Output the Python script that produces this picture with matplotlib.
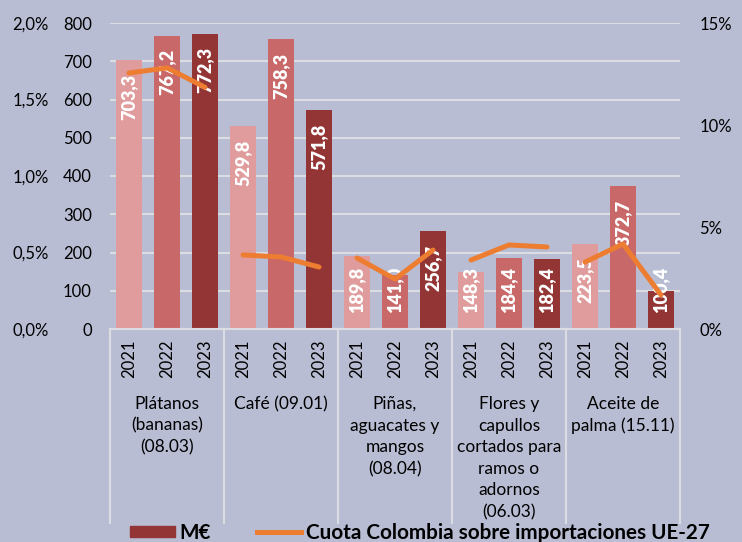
import matplotlib.pyplot as plt
from matplotlib.lines import Line2D
from matplotlib.patches import Patch
import matplotlib.transforms as mtransforms

plt.rcParams['font.family'] = ['Lato', 'DejaVu Sans']

# data
groups = ['Plátanos\n(bananas)\n(08.03)', 'Café (09.01)', 'Piñas,\naguacates y\nmangos\n(08.04)',
          'Flores y\ncapullos\ncortados para\nramos o\nadornos\n(06.03)', 'Aceite de\npalma (15.11)']
years = ['2021', '2022', '2023']
meur = [[703.3, 767.2, 772.3],
        [529.8, 758.3, 571.8],
        [189.8, 141.0, 256.7],
        [148.3, 184.4, 182.4],
        [223.5, 372.7, 100.4]]
labels = [['703,3', '767,2', '772,3'],
          ['529,8', '758,3', '571,8'],
          ['189,8', '141,0', '256,7'],
          ['148,3', '184,4', '182,4'],
          ['223,5', '372,7', '100,4']]
cuota = [[12.55, 12.8, 11.85],
         [3.63, 3.53, 3.04],
         [3.48, 2.45, 3.87],
         [3.38, 4.12, 4.02],
         [3.28, 4.17, 1.67]]

bg = '#b8bdd3'
bar_cols = ['#e09c9c', '#c96868', '#943535']
orange = '#ed7d31'
grid_c = '#dcdde3'

fig = plt.figure(figsize=(7.42, 5.42), dpi=100, facecolor=bg)
ax = fig.add_axes([110/742, 1-329/542, 570/742, 306/542], facecolor=bg)

for g in range(len(groups)):
    for j in range(3):
        x = g*3 + j
        v = meur[g][j]
        ax.bar(x, v, width=0.68, color=bar_cols[j], zorder=2)
        ax.text(x, max(v - 36, 162), labels[g][j], rotation=90, ha='center', va='top',
                color='white', fontsize=13, fontweight='heavy', zorder=4)

ax.set_xlim(-0.5, 14.5)
ax.set_ylim(0, 800)
ax.set_yticks(range(0, 801, 100))
ax.yaxis.grid(True, color=grid_c, lw=1.5, zorder=0)
ax.set_axisbelow(True)
for s in ax.spines.values():
    s.set_visible(False)
ax.tick_params(axis='y', length=0, pad=13, labelsize=12)
ax.set_xticks([])

# category axis
tr = mtransforms.blended_transform_factory(ax.transData, ax.transAxes)
ax.plot([-0.5, 14.5], [0, 0], color=grid_c, lw=1.5, transform=tr, clip_on=False, zorder=3)
for b in [-0.5, 2.5, 5.5, 8.5, 11.5, 14.5]:
    ax.plot([b, b], [0, -194/306], color=grid_c, lw=1.5, transform=tr, clip_on=False)
for g in range(len(groups)):
    for j in range(3):
        ax.text(g*3 + j, -11/306, years[j], rotation=90, ha='center', va='top',
                fontsize=12, transform=tr)
    ax.text(g*3 + 1, -67/306, groups[g], ha='center', va='top', fontsize=12.5,
            linespacing=1.43, transform=tr)

# right axis: share
ax2 = ax.twinx()
ax2.set_ylim(0, 15)
ax2.set_yticks([0, 5, 10, 15])
ax2.set_yticklabels(['0%', '5%', '10%', '15%'])
ax2.tick_params(axis='y', length=0, pad=14, labelsize=12)
for s in ax2.spines.values():
    s.set_visible(False)
for g in range(len(groups)):
    ax2.plot([g*3, g*3 + 1, g*3 + 2], cuota[g], color=orange, lw=3.6,
             solid_capstyle='round', zorder=3)

# far left axis
ax3 = ax.twinx()
ax3.set_ylim(0, 0.02)
ax3.set_yticks([0, 0.005, 0.01, 0.015, 0.02])
ax3.set_yticklabels(['0,0%', '0,5%', '1,0%', '1,5%', '2,0%'])
ax3.yaxis.set_ticks_position('left')
ax3.tick_params(axis='y', length=0, pad=44, labelsize=12)
for s in ax3.spines.values():
    s.set_visible(False)

handles = [Patch(color=bar_cols[2], label='M€'),
           Line2D([], [], color=orange, lw=3.6, label='Cuota Colombia sobre importaciones UE-27')]
fig.legend(handles=handles, loc='center', bbox_to_anchor=(420/742, 1-533/542), ncol=2,
           frameon=False, prop={'weight': 'bold', 'size': 14.9}, handlelength=2.15,
           handleheight=0.48, handletextpad=0.23, columnspacing=2.2, borderaxespad=0)

fig.savefig('out.png', dpi=100, facecolor=bg)
